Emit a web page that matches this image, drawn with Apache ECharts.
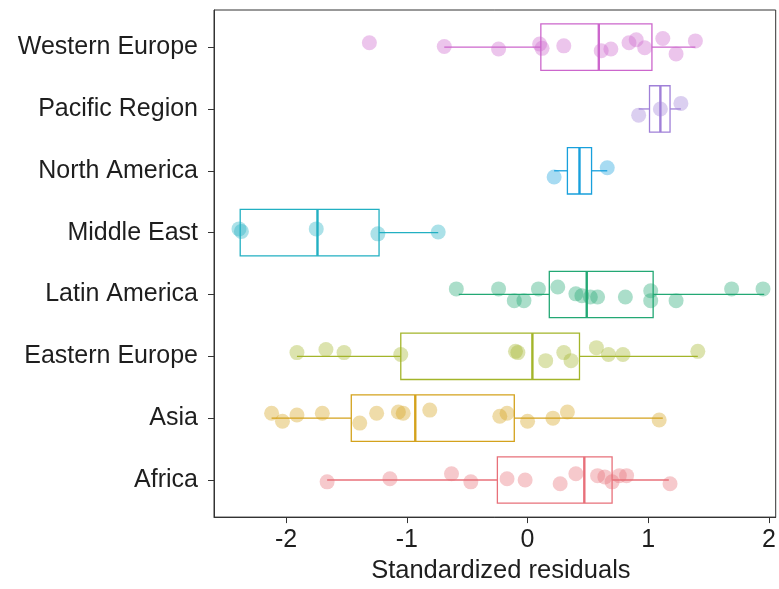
<!DOCTYPE html>
<html>
<head>
<meta charset="utf-8">
<script src="https://cdn.jsdelivr.net/npm/echarts@6/dist/echarts.min.js"></script>
<style>html,body{margin:0;padding:0;background:#fff}#c{width:779px;height:589px}</style>
</head>
<body>
<div id="c"></div>
<script>
// Categories, bottom to top
const categories = ['Africa','Asia','Eastern Europe','Latin America','Middle East','North America','Pacific Region','Western Europe'];
const tickValues = [-2, -1, 0, 1, 2];
const xTitle = 'Standardized residuals';

// Box statistics [min, Q1, median, Q3, max] per category
const boxAfrica = [-1.66, -0.25, 0.47, 0.70, 1.17];
const boxAsia = [-2.12, -1.46, -0.93, -0.11, 1.12];
const boxEastEurope = [-1.91, -1.05, 0.04, 0.43, 1.41];
const boxLatinAmerica = [-0.57, 0.18, 0.49, 1.04, 1.96];
const boxMiddleEast = [-2.38, -2.38, -1.74, -1.23, -0.74];
const boxNorthAmerica = [0.22, 0.33, 0.43, 0.53, 0.66];
const boxPacific = [0.92, 1.01, 1.10, 1.18, 1.27];
const boxWestEurope = [-0.69, 0.11, 0.59, 1.03, 1.39];

// Individual residuals and their vertical jitter (category units)
const ptsAfrica = [-1.66, -1.14, -0.63, -0.47, -0.17, -0.02, 0.27, 0.40, 0.58, 0.64, 0.70, 0.76, 0.82, 1.18];
const jitAfrica = [-0.03, 0.02, 0.10, -0.03, 0.02, 0.00, -0.06, 0.10, 0.07, 0.05, -0.03, 0.07, 0.07, -0.06];
const ptsAsia = [-2.12, -2.03, -1.91, -1.70, -1.39, -1.25, -1.07, -1.03, -0.81, -0.23, -0.17, 0.00, 0.21, 0.33, 1.09];
const jitAsia = [0.08, -0.05, 0.05, 0.08, -0.08, 0.08, 0.10, 0.08, 0.13, 0.03, 0.08, -0.05, 0.00, 0.10, -0.03];
const ptsEastEurope = [-1.91, -1.67, -1.52, -1.05, -0.10, -0.08, 0.15, 0.30, 0.36, 0.57, 0.67, 0.79, 1.41];
const jitEastEurope = [0.06, 0.11, 0.06, 0.03, 0.08, 0.06, -0.07, 0.06, -0.07, 0.14, 0.03, 0.03, 0.08];
const ptsLatinAmerica = [-0.59, -0.24, -0.11, -0.03, 0.09, 0.25, 0.40, 0.45, 0.52, 0.58, 0.81, 1.02, 1.02, 1.23, 1.69, 1.95];
const jitLatinAmerica = [0.09, 0.09, -0.10, -0.10, 0.09, 0.12, 0.01, -0.02, -0.04, -0.04, -0.04, 0.06, -0.10, -0.10, 0.09, 0.09];
const ptsMiddleEast = [-2.39, -2.37, -1.75, -1.24, -0.74];
const jitMiddleEast = [0.06, 0.02, 0.06, -0.02, 0.01];
const ptsNorthAmerica = [0.22, 0.66];
const jitNorthAmerica = [-0.10, 0.05];
const ptsPacific = [0.92, 1.10, 1.27];
const jitPacific = [-0.10, 0.00, 0.09];
const ptsWestEurope = [-1.31, -0.69, -0.24, 0.10, 0.12, 0.30, 0.61, 0.69, 0.84, 0.90, 0.97, 1.12, 1.23, 1.39];
const jitWestEurope = [0.07, 0.01, -0.03, 0.05, -0.02, 0.02, -0.06, -0.03, 0.07, 0.12, -0.01, 0.14, -0.11, 0.10];

const colors = ['#E8707A', '#D4A21C', '#A3B52A', '#23A874', '#22B0C2', '#18A0DC', '#A080D8', '#CC66CC'];

const boxes = [boxAfrica, boxAsia, boxEastEurope, boxLatinAmerica, boxMiddleEast, boxNorthAmerica, boxPacific, boxWestEurope];
const pts = [ptsAfrica, ptsAsia, ptsEastEurope, ptsLatinAmerica, ptsMiddleEast, ptsNorthAmerica, ptsPacific, ptsWestEurope];
const jits = [jitAfrica, jitAsia, jitEastEurope, jitLatinAmerica, jitMiddleEast, jitNorthAmerica, jitPacific, jitWestEurope];

const FONT = '"Liberation Sans", Arial, Helvetica, sans-serif';
const TXT = '#1e1e1e';
const HALF = 0.375;
const catTicks = categories.map((c, i) => i);

const boxData = boxes.map((b, i) => [i].concat(b));

const scatterSeries = pts.map((arr, i) => ({
  type: 'scatter',
  symbolSize: 15,
  silent: true,
  z: 3,
  itemStyle: { color: colors[i], opacity: 0.38 },
  data: arr.map((v, k) => [v, i + jits[i][k]])
}));

const chart = echarts.init(document.getElementById('c'), null, { renderer: 'canvas' });
chart.setOption({
  animation: false,
  backgroundColor: '#ffffff',
  textStyle: { fontFamily: FONT },
  grid: { left: 214, right: 3, top: 10, bottom: 64, show: true, borderColor: '#333', borderWidth: 1, backgroundColor: 'transparent' },
  xAxis: {
    type: 'value',
    min: -2.597,
    max: 2.055,
    splitLine: { show: false },
    axisLine: { show: true, onZero: false, lineStyle: { color: '#333', width: 1 } },
    axisTick: { show: true, length: 6, customValues: tickValues, lineStyle: { color: '#333' } },
    axisLabel: { customValues: tickValues, fontSize: 25, color: TXT, margin: 11, fontFamily: FONT },
    name: xTitle,
    nameLocation: 'middle',
    nameGap: 40,
    nameTextStyle: { fontSize: 25.5, color: TXT, fontFamily: FONT, padding: [0, 0, 0, 12] }
  },
  yAxis: {
    type: 'value',
    min: -0.6,
    max: 7.6,
    splitLine: { show: false },
    axisLine: { show: true, onZero: false, lineStyle: { color: '#333', width: 1 } },
    axisTick: { show: true, length: 6, customValues: catTicks, lineStyle: { color: '#333' } },
    axisLabel: {
      customValues: catTicks, fontSize: 25, color: TXT, margin: 16, fontFamily: FONT,
      formatter: function (v) { return categories[Math.round(v)]; }
    }
  },
  series: [
    {
      type: 'custom',
      silent: true,
      z: 2,
      data: boxData,
      renderItem: function (params, api) {
        const idx = api.value(0);
        const mn = api.value(1), q1 = api.value(2), md = api.value(3), q3 = api.value(4), mx = api.value(5);
        const c = colors[idx];
        const pTop = api.coord([q1, idx + HALF]);
        const pBot = api.coord([q3, idx - HALF]);
        const yc = api.coord([md, idx])[1];
        const xMin = api.coord([mn, idx])[0];
        const xQ1 = api.coord([q1, idx])[0];
        const xMd = api.coord([md, idx])[0];
        const xQ3 = api.coord([q3, idx])[0];
        const xMax = api.coord([mx, idx])[0];
        const ls = { stroke: c, lineWidth: 1.3, fill: null };
        return {
          type: 'group',
          children: [
            { type: 'line', shape: { x1: xMin, y1: yc, x2: xQ1, y2: yc }, style: ls },
            { type: 'line', shape: { x1: xQ3, y1: yc, x2: xMax, y2: yc }, style: ls },
            { type: 'rect', shape: { x: pTop[0], y: pTop[1], width: pBot[0] - pTop[0], height: pBot[1] - pTop[1] }, style: { stroke: c, lineWidth: 1.3, fill: 'rgba(255,255,255,0)' } },
            { type: 'line', shape: { x1: xMd, y1: pTop[1], x2: xMd, y2: pBot[1] }, style: { stroke: c, lineWidth: 2.4 } }
          ]
        };
      }
    }
  ].concat(scatterSeries)
});
</script>
</body>
</html>
